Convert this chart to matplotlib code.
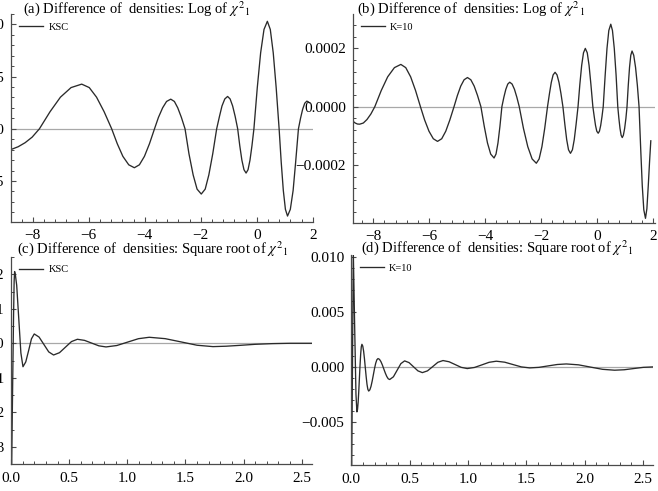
import numpy as np
import matplotlib
matplotlib.use("Agg")
import matplotlib.pyplot as plt
from matplotlib.ticker import MultipleLocator, FixedLocator, FuncFormatter

plt.rcParams['font.family'] = ['Liberation Serif', 'DejaVu Serif']
plt.rcParams['mathtext.fontset'] = 'stix'
plt.rcParams['axes.unicode_minus'] = True

# ---------------- data ----------------
# (a) Log of chi2_1, KSC  (y in units of 1e-4)
a_x = [-8.77, -8.52, -8.27, -8.02, -7.76,
       -7.38, -7.01, -6.63, -6.25, -5.98, -5.72, -5.45, -5.18,
       -4.98, -4.78, -4.57, -4.37, -4.19, -4.01, -3.83, -3.65,
       -3.51, -3.36, -3.22, -3.07, -2.94, -2.82, -2.69, -2.56,
       -2.42, -2.27, -2.13, -1.98, -1.84, -1.71, -1.57, -1.43,
       -1.33, -1.24, -1.14, -1.04, -0.95, -0.86, -0.77, -0.68,
       -0.605, -0.53, -0.455, -0.38, -0.31, -0.24, -0.17, -0.10,
       0.02, 0.14, 0.26, 0.38, 0.485, 0.59, 0.695, 0.80,
       0.875, 0.95, 1.025, 1.10, 1.20, 1.30, 1.39, 1.49,
       1.565, 1.64, 1.715, 1.79, 1.835, 1.88]
a_y = [-1.98, -1.72, -1.33, -0.80, 0.0,
       1.64, 3.03, 3.95, 4.28, 3.95, 3.03, 1.64, 0.0,
       -1.43, -2.64, -3.45, -3.73, -3.45, -2.64, -1.43, 0.0,
       1.09, 2.01, 2.62, 2.84, 2.62, 2.01, 1.09, 0.0,
       -2.39, -4.42, -5.78, -6.25, -5.78, -4.42, -2.39, 0.0,
       1.19, 2.19, 2.86, 3.10, 2.86, 2.19, 1.19, 0.0,
       -1.62, -3.00, -3.92, -4.24, -3.92, -3.00, -1.62, 0.0,
       3.94, 7.28, 9.52, 10.3, 9.52, 7.28, 3.94, 0.0,
       -3.20, -5.91, -7.72, -8.36, -7.72, -5.91, -3.20, 0.0,
       1.01, 1.87, 2.45, 2.65, 2.60, 2.49]

# (b) Log of chi2_1, K=10  (y in units of 1e-5)
b_x = [-8.80, -8.72, -8.64, -8.56, -8.48, -8.35, -8.22, -8.08, -7.94,
       -7.71, -7.48, -7.24, -7.01, -6.835, -6.66, -6.485, -6.31,
       -6.16, -6.005, -5.85, -5.70, -5.55, -5.405, -5.26, -5.11,
       -4.99, -4.87, -4.75, -4.63, -4.51, -4.39, -4.27, -4.15,
       -4.03, -3.915, -3.80, -3.68, -3.61, -3.54, -3.47, -3.40,
       -3.33, -3.26, -3.19, -3.12, -3.035, -2.95, -2.865, -2.78,
       -2.63, -2.475, -2.32, -2.17, -2.07, -1.97, -1.87, -1.77,
       -1.70, -1.635, -1.57, -1.50, -1.43, -1.36, -1.29, -1.22,
       -1.15, -1.085, -1.02, -0.95, -0.88, -0.815, -0.75, -0.68,
       -0.615, -0.55, -0.485, -0.42, -0.35, -0.285, -0.22, -0.15,
       -0.10, -0.055, -0.01, 0.04, 0.085, 0.13, 0.175, 0.22,
       0.29, 0.355, 0.42, 0.49, 0.55, 0.615, 0.68, 0.74,
       0.78, 0.82, 0.86, 0.90, 0.94, 0.985, 1.03, 1.07,
       1.115, 1.16, 1.205, 1.25, 1.31, 1.375, 1.44, 1.50,
       1.56, 1.615, 1.67, 1.73, 1.78, 1.83, 1.875, 1.92]
b_y = [-4.0, -5.0, -5.6, -5.95, -6.0, -5.6, -4.4, -2.5, 0.0,
       5.55, 10.25, 13.4, 14.5, 13.4, 10.25, 5.55, 0.0,
       -4.56, -8.41, -11.0, -11.9, -11.0, -8.41, -4.56, 0.0,
       3.83, 7.07, 9.24, 10.0, 9.24, 7.07, 3.83, 0.0,
       -6.74, -12.44, -16.26, -17.6, -16.26, -12.44, -6.74, 0.0,
       3.22, 5.94, 7.76, 8.4, 7.76, 5.94, 3.22, 0.0,
       -7.43, -13.72, -17.93, -19.4, -17.93, -13.72, -7.43, 0.0,
       4.52, 8.34, 10.9, 11.8, 10.9, 8.34, 4.52, 0.0,
       -6.13, -11.31, -14.78, -16.0, -14.78, -11.31, -6.13, 0.0,
       7.66, 14.14, 18.48, 20.0, 18.48, 14.14, 7.66, 0.0,
       -3.49, -6.43, -8.41, -9.1, -8.41, -6.43, -3.49, 0.0,
       10.84, 20.01, 26.15, 28.3, 26.15, 20.01, 10.84, 0.0,
       -4.06, -7.49, -9.79, -10.6, -9.79, -7.49, -4.06, 0.0,
       7.32, 13.5, 17.65, 19.1, 17.65, 13.5, 7.32, 0.0,
       -14.67, -27.08, -35.39, -38.3, -35.0, -27.0, -19.0, -11.7]

# (c) Square root of chi2_1, KSC  (y in units of 1e-2)
c_x = [0.004, 0.015, 0.022, 0.027, 0.031, 0.038, 0.049, 0.067, 0.085, 0.103,
       0.127, 0.152, 0.176, 0.200, 0.2415, 0.283, 0.3245, 0.366,
       0.417, 0.4685, 0.520, 0.571, 0.6325, 0.694, 0.7555, 0.817,
       0.910, 1.003, 1.096, 1.189, 1.326, 1.463, 1.600, 1.737,
       1.850, 1.970, 2.100, 2.250, 2.400, 2.586]
c_y = [-4.0, -1.0, 0.8, 1.8, 2.08, 1.975, 1.68, 0.70, -0.28, -0.68,
       -0.54, -0.205, 0.13, 0.27, 0.18, -0.035, -0.25, -0.34,
       -0.273, -0.112, 0.049, 0.116, 0.084, 0.005, -0.074, -0.106,
       -0.065, 0.034, 0.133, 0.174, 0.134, 0.039, -0.057, -0.097,
       -0.085, -0.06, -0.03, -0.01, 0.0, 0.0]

# (d) Square root of chi2_1, K=10  (y in units of 1e-3)
d_x = [0.003, 0.010, 0.017, 0.030, 0.040, 0.048,
       0.0534, 0.0588, 0.0641, 0.0695, 0.0749, 0.0803, 0.0856, 0.091,
       0.0983, 0.1055, 0.1128, 0.120, 0.1273, 0.1345, 0.1418, 0.149,
       0.159, 0.169, 0.179, 0.189, 0.199, 0.209, 0.219, 0.229,
       0.2415, 0.254, 0.2665, 0.279, 0.2915, 0.304, 0.3165, 0.329,
       0.361, 0.393, 0.425, 0.457, 0.495, 0.533, 0.571, 0.609,
       0.653, 0.698, 0.742, 0.786, 0.838, 0.890, 0.942, 0.994,
       1.056, 1.119, 1.181, 1.243, 1.315, 1.386, 1.458, 1.529,
       1.608, 1.686, 1.765, 1.843, 1.947, 2.050, 2.154, 2.257,
       2.339, 2.420, 2.503, 2.586]
d_y = [-9.5, 0.0, 10.6, 3.0, -2.5, -4.1,
       -3.87, -3.20, -2.20, -1.02, 0.16, 1.16, 1.83, 2.06,
       1.90, 1.44, 0.74, -0.07, -0.88, -1.58, -2.04, -2.2,
       -2.09, -1.77, -1.29, -0.72, -0.15, 0.33, 0.65, 0.76,
       0.69, 0.48, 0.17, -0.20, -0.56, -0.87, -1.08, -1.15,
       -0.90, -0.30, 0.30, 0.55, 0.39, 0.015, -0.36, -0.52,
       -0.36, 0.03, 0.42, 0.58, 0.47, 0.215, -0.04, -0.15,
       -0.05, 0.185, 0.42, 0.52, 0.43, 0.215, 0.0, -0.09,
       -0.04, 0.09, 0.22, 0.27, 0.19, -0.015, -0.22, -0.30,
       -0.26, -0.15, -0.04, 0.0]

titles = ["(a) Difference of  densities: Log of $\\chi^{2}{}_{1}$",
          "(b) Difference of  densities: Log of $\\chi^{2}{}_{1}$",
          "(c) Difference of  densities: Square root of $\\chi^{2}{}_{1}$",
          "(d) Difference of  densities: Square root of $\\chi^{2}{}_{1}$"]
legend_labels = ["KSC", "K=10", "KSC", "K=10"]

a_yticks = [-0.0005, 0.0, 0.0005, 0.0010]
b_yticks = [-0.0002, 0.0, 0.0002]
c_yticks = [-0.03, -0.02, -0.01, 0.0, 0.01, 0.02]
d_yticks = [-0.005, 0.0, 0.005, 0.010]
log_xticks = [-8, -6, -4, -2, 0, 2]
sqrt_xticks = [0.0, 0.5, 1.0, 1.5, 2.0, 2.5]

# ---------------- figure ----------------
W, H = 658, 491
fig = plt.figure(figsize=(W / 100, H / 100), dpi=100)


def px_axes(l, t, r, b):
    return fig.add_axes([l / W, 1 - b / H, (r - l) / W, (b - t) / H])


ax_a = px_axes(11, 14, 313, 222)
ax_b = px_axes(352.7, 14, 655, 222.7)
ax_c = px_axes(11, 256.7, 311.7, 464)
ax_d = px_axes(351.3, 255, 653, 465)

curve_col = '#2a2a2a'
spine_col = '#4a4a4a'

panels = [
    (ax_a, np.array(a_x), np.array(a_y) * 1e-4, (-8.775, 2.01), (-0.000893, 0.0011),
     log_xticks, 0.4, a_yticks, 0.0001, "{:.4f}", "{:.0f}", 0.417, 1.008, 5),
    (ax_b, np.array(b_x), np.array(b_y) * 1e-5, (-8.73, 2.07), (-0.000398, 0.000318),
     log_xticks, 0.4, b_yticks, 0.00004, "{:.4f}", "{:.0f}", 0.391, 1.008, 5),
    (ax_c, np.array(c_x), np.array(c_y) * 1e-2, (0.0, 2.586), (-0.035, 0.0251),
     sqrt_xticks, 0.1, c_yticks, 0.005, "{:.2f}", "{:.1f}", 0.47, 1.017, 6),
    (ax_d, np.array(d_x), np.array(d_y) * 1e-3, (0.0, 2.586), (-0.00894, 0.0102),
     sqrt_xticks, 0.1, d_yticks, 0.001, "{:.3f}", "{:.1f}", 0.483, 1.017, 6),
]


def make_fmt(f):
    def fmt(v, pos):
        s = f.format(v)
        if s.startswith('-'):
            s = '\u2212' + s[1:]
        if s.replace('\u2212', '').strip('0.') == '':
            s = s.replace('\u2212', '')
        return s
    return fmt


for i, (ax, x, y, xl, yl, xt, xminor, yt, yminor, yfmt, xfmt, tx, ty, xpad) in enumerate(panels):
    ax.axhline(0.0, color='#a8a8a8', lw=0.9, zorder=1)
    ax.plot(x, y, color=curve_col, lw=0.95, label=legend_labels[i], zorder=2)
    ax.set_xlim(*xl)
    ax.set_ylim(*yl)
    ax.set_facecolor('none')
    for s in ['top', 'right']:
        ax.spines[s].set_visible(False)
    for s in ['left', 'bottom']:
        ax.spines[s].set_color(spine_col)
        ax.spines[s].set_linewidth(0.9)
    ax.xaxis.set_major_locator(FixedLocator(xt))
    ax.xaxis.set_minor_locator(MultipleLocator(xminor))
    ax.yaxis.set_major_locator(FixedLocator(yt))
    ax.yaxis.set_minor_locator(MultipleLocator(yminor))
    ax.yaxis.set_major_formatter(FuncFormatter(make_fmt(yfmt)))
    ax.xaxis.set_major_formatter(FuncFormatter(make_fmt(xfmt)))
    ax.tick_params(which='major', direction='in', length=3.5, width=0.8,
                   color=spine_col, labelsize=11, pad=5)
    ax.tick_params(which='minor', direction='in', length=2.0, width=0.7, color=spine_col)
    ax.tick_params(axis='x', which='major', pad=xpad)
    ax.tick_params(top=False, right=False, which='both')
    ax.text(tx, ty, titles[i], transform=ax.transAxes, ha='center', va='baseline',
            fontsize=10.5)
    ax.legend(loc='upper left', frameon=False, fontsize=7.5, handlelength=2.3,
              handletextpad=0.5, borderaxespad=0.5, borderpad=0.3)

fig.savefig('out.png', dpi=100)
